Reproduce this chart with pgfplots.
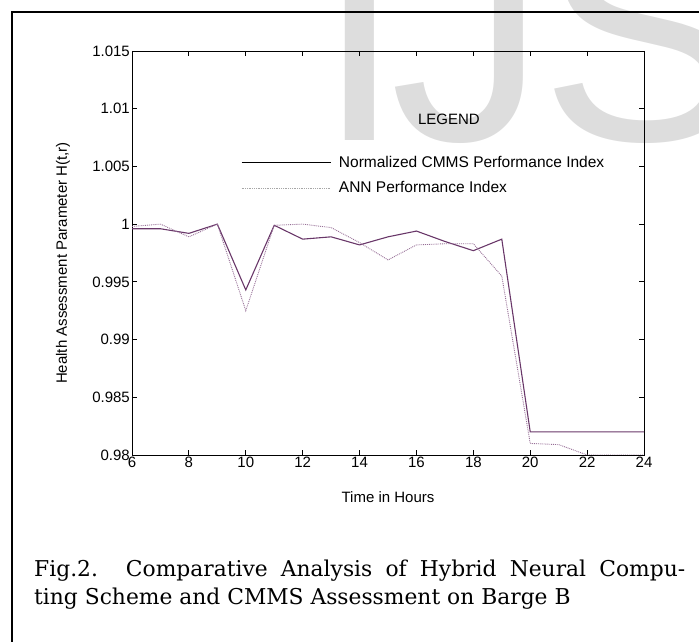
\documentclass[border=0pt]{standalone}
\usepackage{fontspec}
\usepackage{pgfplots}
\pgfplotsset{compat=1.18}
\newfontfamily\chartfont{Liberation Sans}
\newfontfamily\capfont{DejaVu Serif}
\definecolor{cmms}{RGB}{105,55,105}
\definecolor{ann}{RGB}{150,110,150}
\definecolor{wm}{RGB}{221,221,221}
\newcommand\cf{\chartfont\fontsize{15bp}{18bp}\selectfont}
\begin{document}
\begin{tikzpicture}[x=1bp,y=1bp]
\begin{scope}
\clip (0,0) rectangle (699,642);
\node[text=wm, font=\chartfont\fontsize{312bp}{312bp}\selectfont, anchor=base west, inner sep=0pt] at (316,501) {I};
\node[text=wm, font=\chartfont\fontsize{312bp}{312bp}\selectfont, anchor=base west, inner sep=0pt] at (390,501) {J};
\node[text=wm, font=\chartfont\fontsize{312bp}{312bp}\selectfont, anchor=base west, inner sep=0pt] at (540,501) {S};
\draw[line width=2bp] (12,-20) -- (12,630) -- (720,630);
\end{scope}
\begin{axis}[
  at={(132bp,187bp)}, anchor=south west,
  scale only axis, width=512bp, height=404bp,
  xmin=6, xmax=24, ymin=0.98, ymax=1.015,
  xtick={6,8,10,12,14,16,18,20,22,24},
  ytick={0.98,0.985,0.99,0.995,1,1.005,1.01,1.015},
  yticklabels={0.98,0.985,0.99,0.995,1,1.005,1.01,1.015},
  scaled y ticks=false,
  /pgf/number format/assume math mode=true,
  tick align=inside, major tick length=5bp,
  axis line style={line width=0.9pt},
  every tick/.style={black, line width=0.8pt},
  tick label style={font=\cf},
  yticklabel style={inner sep=2bp},
  xticklabel style={inner sep=2bp},
  xlabel={Time in Hours},
  ylabel={Health Assessment Parameter H(t,r)},
  label style={font=\cf},
  xlabel style={at={(rel axis cs:0.5,-0.1188)}, anchor=base, inner sep=0pt},
  ylabel style={at={(rel axis cs:-0.1348,0.475)}, anchor=center, inner sep=0pt},
  legend image code/.code={\draw[#1] (0bp,0bp) -- (89bp,0bp);},
  legend cell align=left,
  legend style={draw=none, fill=none, inner sep=0pt, outer sep=0pt,
    font=\chartfont\fontsize{15.5bp}{18bp}\selectfont,
    at={(rel axis cs:0.213,0.743)}, anchor=north west, row sep=11bp,
    nodes={inner sep=1bp},
    /tikz/every odd column/.append style={column sep=7bp}},
  clip=true,
]
\addplot[cmms, line width=1.1pt, forget plot] coordinates {
(6,0.9996) (7,0.9996) (8,0.9992) (9,1.0000) (10,0.9943) (11,0.9999) (12,0.9987)
(13,0.9989) (14,0.9982) (15,0.9989) (16,0.9994) (17,0.9985) (18,0.9977) (19,0.9987)
(20,0.982) (21,0.982) (22,0.982) (23,0.982) (24,0.982)};
\addplot[ann, line width=0.9pt, densely dotted, forget plot] coordinates {
(6,0.9998) (7,1.0000) (8,0.9989) (9,1.0000) (10,0.9925) (11,0.9999) (12,1.0000)
(13,0.9997) (14,0.9984) (15,0.9969) (16,0.9982) (17,0.9983) (18,0.9983) (19,0.9955)
(20,0.9810) (21,0.9809) (22,0.9800) (23,0.9800) (24,0.9800)};
\addlegendimage{black, line width=0.9pt}
\addlegendentry{Normalized CMMS Performance Index}
\addlegendimage{gray!70, line width=0.8pt, densely dotted}
\addlegendentry{ANN Performance Index}
\node[font=\cf, inner sep=0pt] at (rel axis cs:0.619,0.832) {LEGEND};
\end{axis}
\node[anchor=base west, inner sep=0pt, font=\capfont\fontsize{21.8bp}{28bp}\selectfont] at (34,65)
  {\makebox[651bp][s]{Fig.2. Comparative Analysis of Hybrid Neural Compu-}};
\node[anchor=base west, inner sep=0pt, font=\capfont\fontsize{21.8bp}{28bp}\selectfont] at (34,37)
  {ting Scheme and CMMS Assessment on Barge B};
\pgfresetboundingbox
\useasboundingbox (0,0) rectangle (699,642);
\end{tikzpicture}
\end{document}
